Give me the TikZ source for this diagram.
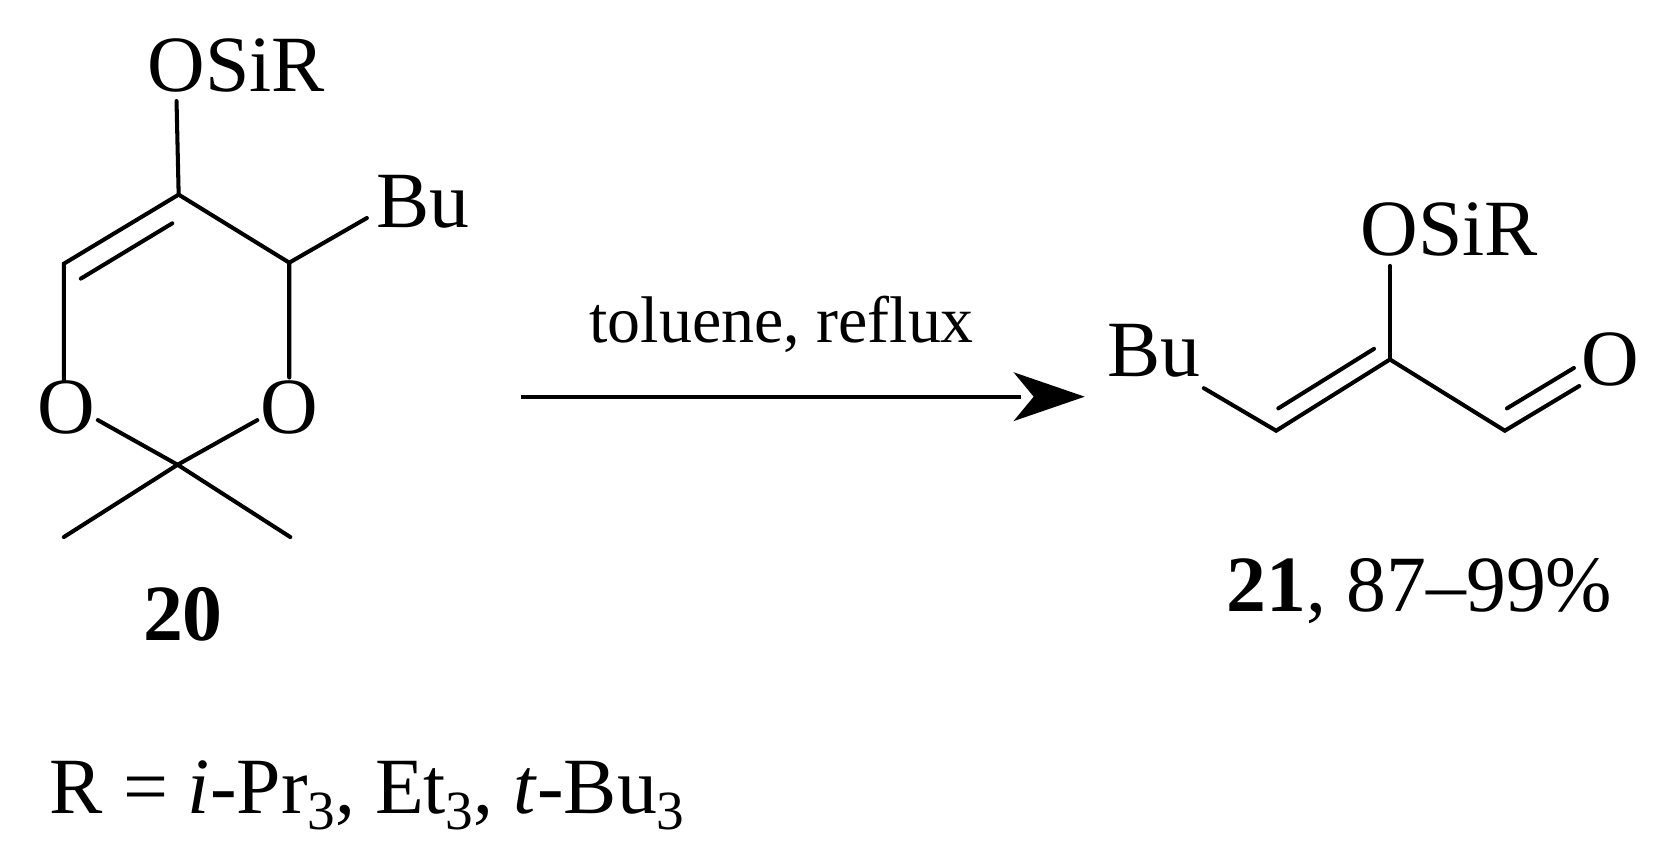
\documentclass[tikz,border=0pt]{standalone}
\usepackage{fontspec}
\setmainfont{Liberation Serif}
\newcommand{\sbs}[1]{\raisebox{-0.2em}{\fontsize{52}{56}\selectfont #1}}
\begin{document}
\begin{tikzpicture}[x=1pt,y=-1pt,line width=3.8pt,
  lbl/.style={font=\fontsize{75}{80}\selectfont,inner sep=0pt},
  bond/.style={line cap=round}]
\useasboundingbox (0,0) rectangle (1560,812);
% compound 20
\coordinate (c5) at (168,183);
\coordinate (c6) at (60,248);
\coordinate (c4) at (272,247);
\coordinate (c2) at (167,437);
\coordinate (o1e) at (60,358);
\coordinate (o3e) at (272,355);
\coordinate (o1b) at (92,395);
\coordinate (o3b) at (242,395);
\coordinate (m1) at (60,505);
\coordinate (m2) at (273,505);
\coordinate (sie) at (166,95);
\coordinate (bue) at (345,205);
\node[lbl] (osir1) at (222,62) {OSiR};
\node[lbl,anchor=west] (bu1) at (352,190) {Bu};
\node[lbl] (oa) at (62,383) {O};
\node[lbl] (ob) at (272,383) {O};
\node[lbl,font=\fontsize{75}{80}\selectfont\bfseries] (n20) at (172,578) {20};
\draw[bond] (sie) -- (c5) -- (c6) -- (o1e);
\draw[bond] (c5) -- (c4) -- (o3e);
\draw[bond] (c4) -- (bue);
\draw[bond] (o1b) -- (c2) -- (o3b);
\draw[bond] (m1) -- (c2) -- (m2);
\draw[bond] (76,262) -- (162,210);
% arrow
\node[font=\fontsize{62}{66}\selectfont,inner sep=0pt] (cond) at (735,305) {toluene, reflux};
\coordinate (a1) at (490,373);
\coordinate (a2) at (1020,373);
\draw[line width=4pt] (a1) -- (960,373);
\fill (a2) -- (953,350) -- (972,373) -- (953,396) -- cycle;
% compound 21
\node[lbl] (bu2) at (1085,330) {Bu};
\node[lbl] (osir2) at (1363,216) {OSiR};
\node[lbl] (o2) at (1514,338) {O};
\coordinate (p1) at (1132,365);
\coordinate (p2) at (1200,405);
\coordinate (p3) at (1307,338);
\coordinate (p4) at (1415,405);
\coordinate (p5) at (1485,363);
\coordinate (p6) at (1307,250);
\draw[bond] (p1) -- (p2) -- (p3) -- (p4) -- (p5);
\draw[bond] (p3) -- (p6);
\draw[bond] (1202,384) -- (1292,328);
\draw[bond] (1417,384) -- (1480,346);
\node[lbl] (n21) at (1335,556) {\textbf{21}, 87–99\%};
\node[lbl,anchor=base west] (rdef) at (45,765) {R = \textit{i}-Pr\sbs{3}, Et\sbs{3}, \textit{t}-Bu\sbs{3}};
\end{tikzpicture}
\end{document}
